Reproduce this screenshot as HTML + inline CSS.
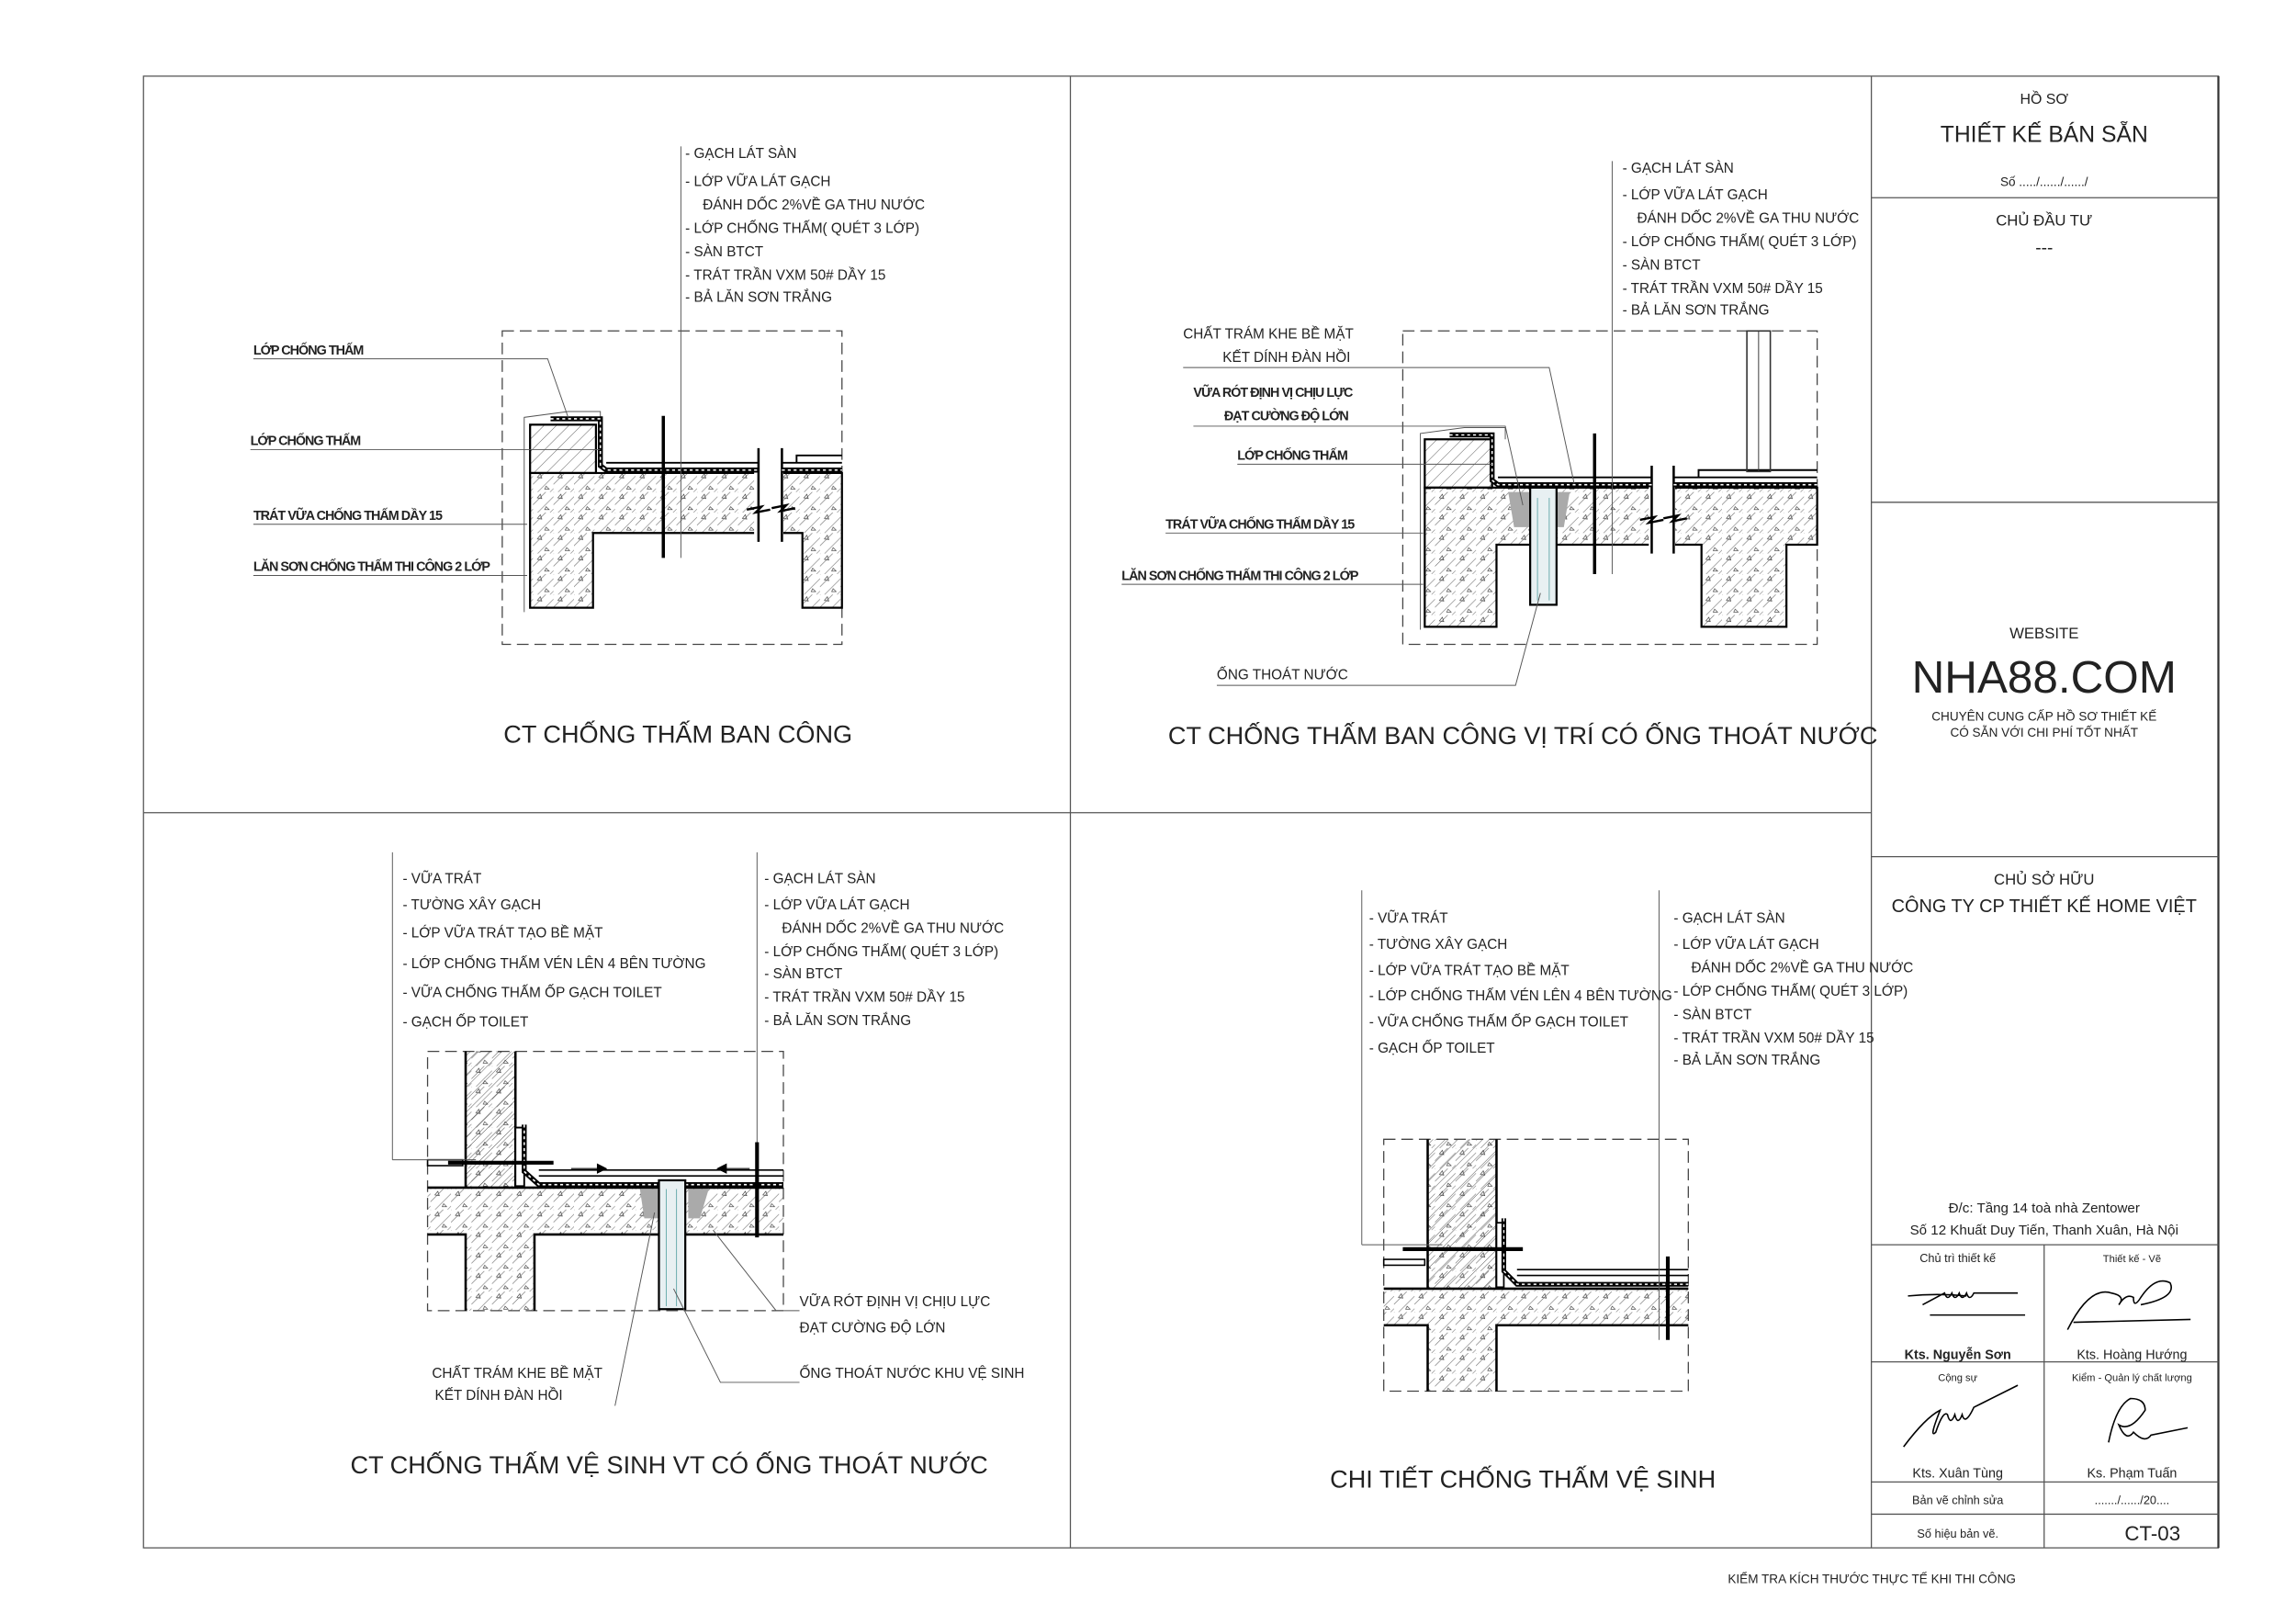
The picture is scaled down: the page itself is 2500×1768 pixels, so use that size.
<!DOCTYPE html>
<html><head><meta charset="utf-8">
<style>
html,body{margin:0;padding:0;background:#fff;}
svg{display:block;}
text{font-family:"Liberation Sans","DejaVu Sans",sans-serif;fill:#222;}
.l{font-size:9.6px;}
.c{font-size:9px;font-weight:bold;letter-spacing:-0.6px;}
.t{font-size:17px;text-anchor:middle;}
.m{text-anchor:middle;}
.ld{stroke:#555;stroke-width:0.6;fill:none;}
.b{stroke:#000;stroke-width:1.6;fill:none;}
.k{stroke:#000;stroke-width:2.6;fill:none;}
.ds{stroke:#444;stroke-width:0.8;fill:none;stroke-dasharray:8 4;}
.fr{stroke:#555;stroke-width:0.8;fill:none;}
</style></head><body>
<svg width="2500" height="1768" viewBox="0 0 1568 1109" preserveAspectRatio="none" xmlns="http://www.w3.org/2000/svg">
<defs>
<pattern id="h" width="6" height="6" patternUnits="userSpaceOnUse" patternTransform="rotate(45)">
<line x1="0" y1="0" x2="0" y2="6" stroke="#333" stroke-width="0.5"/></pattern>
<pattern id="cc" width="14" height="14" patternUnits="userSpaceOnUse">
<rect width="14" height="14" fill="url(#h)"/>
<path d="M3 4l2 -2.5l1 3z M9 10l2 2l-3 0z" fill="none" stroke="#333" stroke-width="0.4"/></pattern>
</defs>
<rect width="1568" height="1109" fill="#fff"/>
<!-- frame -->
<rect x="98" y="52" width="1417" height="1005" class="fr"/>
<line x1="731" y1="52" x2="731" y2="1057" class="fr"/>
<line x1="98" y1="555" x2="1278" y2="555" class="fr"/>
<line x1="1278" y1="52" x2="1278" y2="1057" class="fr"/>
<line x1="1515" y1="52" x2="1515" y2="1057" stroke="#333" stroke-width="1.4"/>
<!-- title block -->
<g class="fr">
<line x1="1278" y1="135" x2="1515" y2="135"/>
<line x1="1278" y1="343" x2="1515" y2="343"/>
<line x1="1278" y1="585" x2="1515" y2="585"/>
<line x1="1278" y1="850" x2="1515" y2="850"/>
<line x1="1278" y1="930" x2="1515" y2="930"/>
<line x1="1278" y1="1012" x2="1515" y2="1012"/>
<line x1="1278" y1="1034" x2="1515" y2="1034"/>
<line x1="1396" y1="850" x2="1396" y2="1057"/>
</g>
<text x="1396" y="71" class="m" font-size="10">HỒ SƠ</text>
<text x="1396" y="97" class="m" font-size="15.5">THIẾT KẾ BÁN SẴN</text>
<text x="1396" y="127" class="m" font-size="8.5">Số ...../....../....../</text>
<text x="1396" y="154" class="m" font-size="10.5">CHỦ ĐẦU TƯ</text>
<text x="1396" y="173" class="m" font-size="12">---</text>
<text x="1396" y="436" class="m" font-size="10.5">WEBSITE</text>
<text x="1396" y="473" class="m" font-size="31">NHA88.COM</text>
<text x="1396" y="492" class="m" font-size="8.5">CHUYÊN CUNG CẤP HỒ SƠ THIẾT KẾ</text>
<text x="1396" y="503" class="m" font-size="8.5">CÓ SẴN VỚI CHI PHÍ TỐT NHẤT</text>
<text x="1396" y="604" class="m" font-size="10.5">CHỦ SỞ HỮU</text>
<text x="1396" y="623" class="m" font-size="12.5">CÔNG TY CP THIẾT KẾ HOME VIỆT</text>
<text x="1396" y="828" class="m" font-size="9.5">Đ/c: Tầng 14 toà nhà Zentower</text>
<text x="1396" y="843" class="m" font-size="9.5">Số 12 Khuất Duy Tiến, Thanh Xuân, Hà Nội</text>
<text x="1337" y="862" class="m" font-size="8">Chủ trì thiết kế</text>
<text x="1456" y="862" class="m" font-size="7">Thiết kế - Vẽ</text>
<text x="1337" y="928" class="m" font-size="9" font-weight="bold">Kts. Nguyễn Sơn</text>
<text x="1456" y="928" class="m" font-size="9">Kts. Hoàng Hướng</text>
<text x="1337" y="943" class="m" font-size="7">Cộng sự</text>
<text x="1456" y="943" class="m" font-size="7">Kiểm - Quản lý chất lượng</text>
<text x="1337" y="1009" class="m" font-size="9">Kts. Xuân Tùng</text>
<text x="1456" y="1009" class="m" font-size="9">Ks. Phạm Tuấn</text>
<text x="1337" y="1027" class="m" font-size="8">Bản vẽ chỉnh sửa</text>
<text x="1456" y="1027" class="m" font-size="8">......./....../20....</text>
<text x="1337" y="1050" class="m" font-size="8">Số hiệu bản vẽ.</text>
<text x="1470" y="1052" class="m" font-size="14">CT-03</text>
<g stroke="#000" stroke-width="1" fill="none">
<path d="M1303 885q20-2 40 0M1313 891l15-8q2 6 5 0q2 6 5 0q2 6 5 0q2 6 5 0l30 0M1318 898l65 0"/>
<path d="M1412 908q15-30 30-25q10 2 5 8q5-8 10-5q0 8 5 0q10-15 20-10q5 10-20 15M1416 903l80-2"/>
<path d="M1300 988q15-20 25-25q-8 20-3 15q5-15 8-12q2 8 5 0q2 8 5 0q2 8 8-5l30-15"/>
<path d="M1440 985q5-25 15-30q10 0 10 8q-10 15-18 10q5 12 10 5q8 8 12 2l25-5"/>
</g>
<text x="1180" y="1081" font-size="8.5">KIỂM TRA KÍCH THƯỚC THỰC TẾ KHI THI CÔNG</text>

<!-- ================= DRAWING 1 ================= -->
<rect x="343" y="226" width="232" height="214" class="ds"/>
<path d="M358 418 L358 285 L388 281 L410 281 L410 290" stroke="#555" stroke-width="0.6" fill="none"/>
<path d="M362 323 L575 323 L575 415 L548 415 L548 364 L405 364 L405 415 L362 415 Z" fill="url(#cc)" stroke="#000" stroke-width="1.4"/>
<rect x="362" y="290" width="45" height="33" fill="url(#h)" stroke="#000" stroke-width="1.4"/>
<rect x="515" y="318" width="20" height="50" fill="#fff"/>
<line x1="518" y1="306" x2="518" y2="370" class="b"/><line x1="534" y1="306" x2="534" y2="370" class="b"/>
<path d="M510 348l10-2-4 4 10-2M527 347l10-2-4 4 10-2" stroke="#000" stroke-width="1.5" fill="none"/>
<path d="M376 286 L410 286 L410 318 L414 321 L518 321 M534 321 L575 321" stroke="#000" stroke-width="3.4" fill="none"/>
<path d="M376 286 L410 286 L410 318 L414 321 L518 321 M534 321 L575 321" stroke="#fff" stroke-width="1" stroke-dasharray="2 2" fill="none"/>
<path d="M414 316 L518 316 M534 316 L575 316 M544 316 L544 311 L575 311" stroke="#000" stroke-width="1.2" fill="none"/>
<line x1="453" y1="284" x2="453" y2="381" stroke="#000" stroke-width="2.2"/>
<line x1="465" y1="100" x2="465" y2="381" class="ld"/>
<text x="468" y="108" class="l">- GẠCH LÁT SÀN</text>
<text x="468" y="127" class="l">- LỚP VỮA LÁT GẠCH</text>
<text x="480" y="143" class="l">ĐÁNH DỐC 2%VỀ GA THU NƯỚC</text>
<text x="468" y="159" class="l">- LỚP CHỐNG THẤM( QUÉT 3 LỚP)</text>
<text x="468" y="175" class="l">- SÀN BTCT</text>
<text x="468" y="191" class="l">- TRÁT TRẦN VXM 50# DẦY 15</text>
<text x="468" y="206" class="l">- BẢ LĂN SƠN TRẮNG</text>
<text x="173" y="242" class="c">LỚP CHỐNG THẤM</text>
<path d="M173 245 L374 245 L388 285" class="ld"/>
<text x="171" y="304" class="c">LỚP CHỐNG THẤM</text>
<path d="M171 307 L410 307" class="ld"/>
<text x="173" y="355" class="c">TRÁT VỮA CHỐNG THẤM DẦY 15</text>
<path d="M173 358 L360 358" class="ld"/>
<text x="173" y="390" class="c">LĂN SƠN CHỐNG THẤM THI CÔNG 2 LỚP</text>
<path d="M173 393 L360 393" class="ld"/>
<text x="463" y="507" class="t">CT CHỐNG THẤM BAN CÔNG</text>

<!-- ================= DRAWING 2 ================= -->
<rect x="958" y="226" width="283" height="214" class="ds"/>
<path d="M970 430 L970 296 L1000 292 L1028 292 L1028 300" stroke="#555" stroke-width="0.6" fill="none"/>
<path d="M973 333 L1241 333 L1241 372 L1220 372 L1220 428 L1162 428 L1162 372 L1022 372 L1022 428 L973 428 Z" fill="url(#cc)" stroke="#000" stroke-width="1.4"/>
<rect x="973" y="300" width="46" height="33" fill="url(#h)" stroke="#000" stroke-width="1.4"/>
<rect x="1126" y="328" width="18" height="50" fill="#fff"/>
<line x1="1128" y1="318" x2="1128" y2="378" class="b"/><line x1="1143" y1="318" x2="1143" y2="378" class="b"/>
<path d="M1120 355l10-2-4 4 10-2M1136 354l10-2-4 4 10-2" stroke="#000" stroke-width="1.5" fill="none"/>
<path d="M1030 336 L1072 336 L1068 360 L1034 360 Z" fill="#aaa"/>
<rect x="1045" y="333" width="18" height="80" fill="#e8f0f2" stroke="#000" stroke-width="1.4"/>
<line x1="1050" y1="340" x2="1050" y2="410" stroke="#6aa" stroke-width="0.6"/><line x1="1058" y1="340" x2="1058" y2="410" stroke="#6aa" stroke-width="0.6"/>
<path d="M990 297 L1019 297 L1019 328 L1023 331 L1128 331 M1143 331 L1241 331" stroke="#000" stroke-width="3.4" fill="none"/>
<path d="M990 297 L1019 297 L1019 328 L1023 331 L1128 331 M1143 331 L1241 331" stroke="#fff" stroke-width="1" stroke-dasharray="2 2" fill="none"/>
<path d="M1023 326 L1128 326 M1143 326 L1241 326 M1160 326 L1160 321 L1241 321" stroke="#000" stroke-width="1.2" fill="none"/>
<rect x="1193" y="226" width="16" height="96" fill="none" stroke="#333" stroke-width="1"/>
<line x1="1201" y1="226" x2="1201" y2="322" stroke="#333" stroke-width="0.6"/>
<line x1="1089" y1="296" x2="1089" y2="392" stroke="#000" stroke-width="2.2"/>
<line x1="1101" y1="110" x2="1101" y2="392" class="ld"/>
<text x="1108" y="118" class="l">- GẠCH LÁT SÀN</text>
<text x="1108" y="136" class="l">- LỚP VỮA LÁT GẠCH</text>
<text x="1118" y="152" class="l">ĐÁNH DỐC 2%VỀ GA THU NƯỚC</text>
<text x="1108" y="168" class="l">- LỚP CHỐNG THẤM( QUÉT 3 LỚP)</text>
<text x="1108" y="184" class="l">- SÀN BTCT</text>
<text x="1108" y="200" class="l">- TRÁT TRẦN VXM 50# DẦY 15</text>
<text x="1108" y="215" class="l">- BẢ LĂN SƠN TRẮNG</text>
<text x="808" y="231" class="l">CHẤT TRÁM KHE BỀ MẶT</text>
<text x="835" y="247" class="l">KẾT DÍNH ĐÀN HỒI</text>
<path d="M808 251 L1058 251 L1075 330" class="ld"/>
<text x="815" y="271" class="c">VỮA RÓT ĐỊNH VỊ CHỊU LỰC</text>
<text x="836" y="287" class="c">ĐẠT CƯỜNG ĐỘ LỚN</text>
<path d="M815 291 L1028 291 L1040 345" class="ld"/>
<text x="845" y="314" class="c">LỚP CHỐNG THẤM</text>
<path d="M845 317 L1019 317" class="ld"/>
<text x="796" y="361" class="c">TRÁT VỮA CHỐNG THẤM DẦY 15</text>
<path d="M796 364 L972 364" class="ld"/>
<text x="766" y="396" class="c">LĂN SƠN CHỐNG THẤM THI CÔNG 2 LỚP</text>
<path d="M766 399 L972 399" class="ld"/>
<text x="831" y="464" class="l">ỐNG THOÁT NƯỚC</text>
<path d="M831 468 L1035 468 L1052 405" class="ld"/>
<text x="1040" y="508" class="t">CT CHỐNG THẤM BAN CÔNG VỊ TRÍ CÓ ỐNG THOÁT NƯỚC</text>

<!-- ================= DRAWING 3 ================= -->
<rect x="292" y="718" width="243" height="177" class="ds"/>
<path d="M292 811 L318 811 L318 718 L352 718 L352 811 L535 811 L535 843 L365 843 L365 895 L318 895 L318 843 L292 843 Z" fill="url(#cc)" stroke="none"/>
<rect x="318" y="718" width="34" height="93" fill="url(#h)"/>
<path d="M318 718 L318 811 L352 811 L352 718 M292 843 L318 843 L318 895 M365 895 L365 843 L535 843 M292 811 L318 811 M352 811 L535 811" class="b"/>
<rect x="352" y="770" width="6" height="40" fill="#fff" stroke="#000" stroke-width="1.2"/>
<path d="M358 768 L358 800 L368 809 L450 809 M468 809 L535 809" stroke="#000" stroke-width="3.4" fill="none"/>
<path d="M358 768 L358 800 L368 809 L450 809 M468 809 L535 809" stroke="#fff" stroke-width="1" stroke-dasharray="2 2" fill="none"/>
<path d="M368 803 L535 803 M368 799 L535 799" stroke="#000" stroke-width="1" fill="none"/>
<path d="M437 812 L450 812 L450 832 L440 832 Z M470 812 L484 812 L478 832 L470 832Z" fill="#aaa"/>
<rect x="450" y="806" width="18" height="88" fill="#e8f0f2" stroke="#000" stroke-width="1.4"/>
<line x1="455" y1="812" x2="455" y2="892" stroke="#6aa" stroke-width="0.6"/><line x1="462" y1="812" x2="462" y2="892" stroke="#6aa" stroke-width="0.6"/>
<rect x="292" y="792" width="24" height="4" fill="none" stroke="#000" stroke-width="1"/>
<line x1="306" y1="794" x2="378" y2="794" class="k"/>
<line x1="517" y1="780" x2="517" y2="845" class="k"/>
<path d="M390 798 L414 798 M414 798 l-6 -3 v6z M512 798 L490 798 M490 798 l6 -3 v6z" stroke="#000" stroke-width="0.7" fill="#000"/>
<line x1="268" y1="582" x2="268" y2="792" class="ld"/><line x1="268" y1="792" x2="325" y2="792" class="ld"/>
<text x="275" y="603" class="l">- VỮA TRÁT</text>
<text x="275" y="621" class="l">- TƯỜNG XÂY GẠCH</text>
<text x="275" y="640" class="l">- LỚP VỮA TRÁT TẠO BỀ MẶT</text>
<text x="275" y="661" class="l">- LỚP CHỐNG THẤM VÉN LÊN 4 BÊN TƯỜNG</text>
<text x="275" y="681" class="l">- VỮA CHỐNG THẤM ỐP GẠCH TOILET</text>
<text x="275" y="701" class="l">- GẠCH ỐP TOILET</text>
<line x1="517" y1="582" x2="517" y2="780" class="ld"/>
<text x="522" y="603" class="l">- GẠCH LÁT SÀN</text>
<text x="522" y="621" class="l">- LỚP VỮA LÁT GẠCH</text>
<text x="534" y="637" class="l">ĐÁNH DỐC 2%VỀ GA THU NƯỚC</text>
<text x="522" y="653" class="l">- LỚP CHỐNG THẤM( QUÉT 3 LỚP)</text>
<text x="522" y="668" class="l">- SÀN BTCT</text>
<text x="522" y="684" class="l">- TRÁT TRẦN VXM 50# DẦY 15</text>
<text x="522" y="700" class="l">- BẢ LĂN SƠN TRẮNG</text>
<text x="546" y="892" class="l">VỮA RÓT ĐỊNH VỊ CHỊU LỰC</text>
<text x="546" y="910" class="l">ĐẠT CƯỜNG ĐỘ LỚN</text>
<path d="M546 895 L530 895 L487 840" class="ld"/>
<text x="295" y="941" class="l">CHẤT TRÁM KHE BỀ MẶT</text>
<text x="297" y="956" class="l">KẾT DÍNH ĐÀN HỒI</text>
<path d="M420 960 L447 828" class="ld"/>
<text x="546" y="941" class="l">ỐNG THOÁT NƯỚC KHU VỆ SINH</text>
<path d="M546 944 L492 944 L460 880" class="ld"/>
<text x="457" y="1006" class="t">CT CHỐNG THẤM VỆ SINH VT CÓ ỐNG THOÁT NƯỚC</text>

<!-- ================= DRAWING 4 ================= -->
<rect x="945" y="778" width="208" height="172" class="ds"/>
<path d="M945 880 L975 880 L975 778 L1022 778 L1022 880 L1153 880 L1153 905 L1022 905 L1022 950 L975 950 L975 905 L945 905 Z" fill="url(#cc)" stroke="none"/>
<rect x="975" y="778" width="47" height="102" fill="url(#h)"/>
<path d="M975 778 L975 880 L1022 880 L1022 778 M945 905 L975 905 L975 950 M1022 950 L1022 905 L1153 905 M945 880 L975 880 M1022 880 L1153 880" class="b"/>
<rect x="1022" y="835" width="5" height="44" fill="#fff" stroke="#000" stroke-width="1.1"/>
<path d="M1027 832 L1027 868 L1036 877 L1153 877" stroke="#000" stroke-width="3.2" fill="none"/>
<path d="M1027 832 L1027 868 L1036 877 L1153 877" stroke="#fff" stroke-width="0.9" stroke-dasharray="2 2" fill="none"/>
<path d="M1036 871 L1153 871 M1036 867 L1153 867" stroke="#000" stroke-width="1" fill="none"/>
<rect x="945" y="860" width="28" height="4" fill="none" stroke="#000" stroke-width="1"/>
<line x1="958" y1="853" x2="1040" y2="853" class="k"/>
<line x1="1139" y1="858" x2="1139" y2="915" class="k"/>
<line x1="930" y1="608" x2="930" y2="850" class="ld"/><line x1="930" y1="850" x2="985" y2="850" class="ld"/>
<text x="935" y="630" class="l">- VỮA TRÁT</text>
<text x="935" y="648" class="l">- TƯỜNG XÂY GẠCH</text>
<text x="935" y="666" class="l">- LỚP VỮA TRÁT TẠO BỀ MẶT</text>
<text x="935" y="683" class="l">- LỚP CHỐNG THẤM VÉN LÊN 4 BÊN TƯỜNG</text>
<text x="935" y="701" class="l">- VỮA CHỐNG THẤM ỐP GẠCH TOILET</text>
<text x="935" y="719" class="l">- GẠCH ỐP TOILET</text>
<line x1="1133" y1="608" x2="1133" y2="915" class="ld"/>
<text x="1143" y="630" class="l">- GẠCH LÁT SÀN</text>
<text x="1143" y="648" class="l">- LỚP VỮA LÁT GẠCH</text>
<text x="1155" y="664" class="l">ĐÁNH DỐC 2%VỀ GA THU NƯỚC</text>
<text x="1143" y="680" class="l">- LỚP CHỐNG THẤM( QUÉT 3 LỚP)</text>
<text x="1143" y="696" class="l">- SÀN BTCT</text>
<text x="1143" y="712" class="l">- TRÁT TRẦN VXM 50# DẦY 15</text>
<text x="1143" y="727" class="l">- BẢ LĂN SƠN TRẮNG</text>
<text x="1040" y="1016" class="t">CHI TIẾT CHỐNG THẤM VỆ SINH</text>
</svg>
</body></html>
